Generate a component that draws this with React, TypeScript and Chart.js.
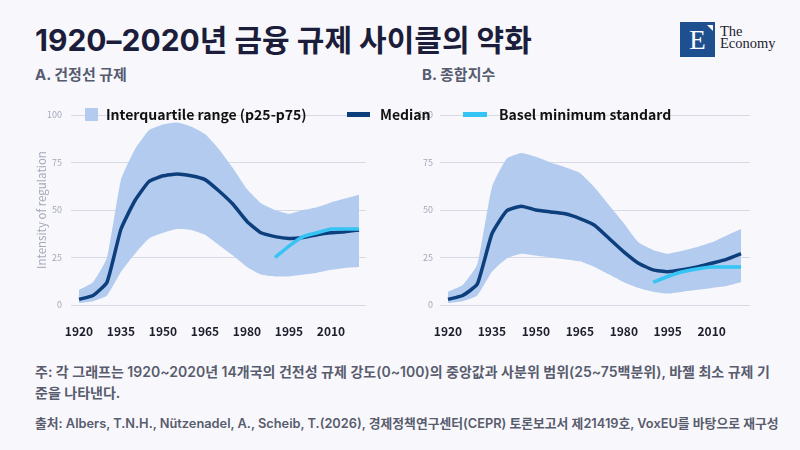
import React, { useEffect, useRef } from "react";
import { Chart, registerables } from "chart.js";

Chart.register(...registerables);

// ---------- data ----------
const years = [1920, 1925, 1930, 1935, 1940, 1945, 1950, 1955, 1960, 1965, 1970, 1975, 1980, 1985, 1990, 1995, 2000, 2005, 2010, 2015, 2020];
const xTickYears = [1920, 1935, 1950, 1965, 1980, 1995, 2010];
const yTickValues = [0, 25, 50, 75, 100];

const aMedian = [3, 5, 12, 40, 55, 65, 68, 69, 68, 66, 60, 53, 44, 38, 36, 35, 35.5, 37, 38, 38.5, 39.5];
const aP75 = [8, 12, 25, 66, 82, 92, 95, 96, 94, 90, 82, 72, 61, 53.5, 50, 48, 50, 51.5, 54, 56, 58];
const aP25 = [1, 2, 5, 17.5, 27, 35, 38, 40, 39.5, 37, 31.5, 26, 20, 16, 15, 15, 16, 17, 18.5, 19.5, 20];

const bMedian = [3, 5, 11, 37.5, 49.5, 52, 50, 49, 48, 45.5, 42, 35, 28, 22, 18.5, 17.5, 18.5, 20, 22, 24, 27];
const bP75 = [7, 10.5, 21.5, 62, 77, 80, 78, 75, 72.5, 69.5, 62, 52.5, 43, 33, 29, 27, 28.5, 30.5, 33, 36.5, 40];
const bP25 = [1, 2, 5, 17.5, 24.5, 27, 26, 25, 24, 23, 20, 16, 12, 9, 7, 6, 7, 8, 9, 10, 12];

const baselYears = [1990, 1995, 2000, 2005, 2010, 2015, 2020];
const aBasel = [25, 31, 36, 38, 40, 40, 40];
const bBasel = [12, 15, 17.5, 19, 20, 20, 20];

// ---------- styles ----------
const BAND = "#b2cbee";
const NAVY = "#0e3f7d";
const CYAN = "#35c4f4";
const BG = "#f8f8fc";
const FONT = "'Noto Sans CJK KR', 'Noto Sans', sans-serif";
const UI_FONT = "Inter, 'Noto Sans CJK KR', sans-serif";

type PanelProps = {
  median: number[];
  p75: number[];
  p25: number[];
  basel: number[];
  left: number;
  width: number;
  padLeft: number;
  padRight: number;
  yWidth: number;
  yTickPad: number;
  xMin: number;
  xMax: number;
  yTitle?: string;
};

function Panel(props: PanelProps) {
  const ref = useRef<HTMLCanvasElement | null>(null);
  useEffect(() => {
    if (!ref.current) return;
    const pts = (vals: number[], xs: number[]) => vals.map((v, i) => ({ x: xs[i], y: v }));
    const chart = new Chart(ref.current, {
      type: "line",
      data: {
        datasets: [
          {
            data: pts(props.p25, years),
            borderWidth: 0,
            pointRadius: 0,
            backgroundColor: BAND,
            fill: false,
            tension: 0.15,
            order: 3,
          },
          {
            data: pts(props.p75, years),
            borderWidth: 0,
            pointRadius: 0,
            backgroundColor: BAND,
            fill: "-1",
            tension: 0.15,
            order: 2,
          },
          {
            data: pts(props.median, years),
            borderColor: NAVY,
            borderWidth: 3.5,
            pointRadius: 0,
            fill: false,
            tension: 0.15,
            order: 1,
          },
          {
            data: pts(props.basel, baselYears),
            borderColor: CYAN,
            borderWidth: 3.5,
            pointRadius: 0,
            fill: false,
            tension: 0.15,
            order: 0,
          },
        ],
      },
      options: {
        animation: false,
        responsive: false,
        devicePixelRatio: 1,
        layout: { padding: { left: props.padLeft, right: props.padRight, top: 10, bottom: 0 } },
        plugins: { legend: { display: false }, tooltip: { enabled: false } },
        scales: {
          x: {
            type: "linear",
            min: props.xMin,
            max: props.xMax,
            grid: { display: false },
            border: { display: false },
            afterBuildTicks: (scale: any) => {
              scale.ticks = xTickYears.map((v) => ({ value: v }));
            },
            afterFit: (scale: any) => {
              scale.height = 35;
              scale.paddingLeft = 0;
              scale.paddingRight = 0;
            },
            ticks: {
              autoSkip: false,
              maxRotation: 0,
              padding: 11,
              color: "#1c1e2c",
              font: { family: FONT, size: 12, weight: "bold" },
              callback: (v: any) => String(v),
            },
          },
          y: {
            min: 0,
            max: 100,
            afterBuildTicks: (scale: any) => {
              scale.ticks = yTickValues.map((v) => ({ value: v }));
            },
            afterFit: (scale: any) => {
              scale.width = props.yWidth;
              scale.paddingTop = 0;
              scale.paddingBottom = 0;
            },
            grid: { color: "#d7dae4", lineWidth: 1, drawTicks: false },
            border: { display: false },
            ticks: {
              padding: props.yTickPad,
              color: "#a3a8b8",
              font: { family: FONT, size: 9 },
            },
            title: props.yTitle
              ? {
                  display: true,
                  text: props.yTitle,
                  color: "#a3a8ba",
                  font: { family: FONT, size: 11.5 },
                  padding: 4,
                }
              : { display: false },
          },
        },
      } as any,
    });
    return () => chart.destroy();
  }, []);
  return (
    <canvas
      ref={ref}
      width={props.width}
      height={235}
      style={{ position: "absolute", left: props.left, top: 105, width: props.width, height: 235 }}
    />
  );
}

const abs = (s: React.CSSProperties): React.CSSProperties => ({ position: "absolute", ...s });

export default function App() {
  const legendText: React.CSSProperties = {
    position: "absolute",
    top: 104,
    fontFamily: FONT,
    fontWeight: 700,
    fontSize: 14,
    lineHeight: "20px",
    color: "#111",
    whiteSpace: "nowrap",
  };
  return (
    <div
      style={{
        position: "fixed",
        left: 0,
        top: 0,
        width: 800,
        height: 450,
        background: BG,
        overflow: "hidden",
        fontFamily: UI_FONT,
      }}
    >
      <div
        style={abs({
          left: 35,
          top: 20,
          fontSize: 30,
          fontWeight: 700,
          lineHeight: "40px",
          color: "#1b1d3a",
          whiteSpace: "nowrap",
        })}
      >
        1920–2020년 금융 규제 사이클의 약화
      </div>

      {/* logo */}
      <div style={abs({ left: 680, top: 22, width: 35, height: 35, background: "#1e4f8f" })}>
        <div
          style={abs({
            left: 0,
            top: 3,
            width: 35,
            textAlign: "center",
            color: "#fff",
            fontFamily: "'Liberation Serif', serif",
            fontSize: 27,
            lineHeight: "30px",
          })}
        >
          E
        </div>
        <div
          style={abs({
            left: 27,
            top: 3,
            width: 0,
            height: 0,
            borderTop: "6px solid #fff",
            borderLeft: "6px solid transparent",
          })}
        />
      </div>
      <div
        style={abs({
          left: 720,
          top: 25,
          fontFamily: "'Liberation Serif', serif",
          fontSize: 14.5,
          lineHeight: "12px",
          color: "#1b1d2e",
        })}
      >
        The
        <br />
        Economy
      </div>

      <div style={abs({ left: 35, top: 65, fontSize: 15, fontWeight: 700, color: "#565b70", lineHeight: "20px" })}>
        A. 건정선 규제
      </div>
      <div style={abs({ left: 422, top: 65, fontSize: 15, fontWeight: 700, color: "#565b70", lineHeight: "20px" })}>
        B. 종합지수
      </div>

      <Panel
        median={aMedian}
        p75={aP75}
        p25={aP25}
        basel={aBasel}
        left={0}
        width={380}
        padLeft={31}
        padRight={14}
        yWidth={40}
        yTickPad={9}
        xMin={1917.14}
        xMax={2022.5}
        yTitle="Intensity of regulation"
      />
      <Panel
        median={bMedian}
        p75={bP75}
        p25={bP25}
        basel={bBasel}
        left={400}
        width={370}
        padLeft={0}
        padRight={20}
        yWidth={40}
        yTickPad={7}
        xMin={1917.27}
        xMax={2023.07}
      />

      {/* legend */}
      <div style={abs({ left: 85, top: 108, width: 13, height: 13, background: BAND })} />
      <div style={{ ...legendText, left: 106 }}>Interquartile range (p25-p75)</div>
      <div style={abs({ left: 347, top: 112, width: 23, height: 5, background: NAVY })} />
      <div style={{ ...legendText, left: 380 }}>Median</div>
      <div style={abs({ left: 463, top: 112, width: 24, height: 5, background: CYAN })} />
      <div style={{ ...legendText, left: 499 }}>Basel minimum standard</div>

      {/* notes */}
      <div
        style={abs({
          left: 35,
          top: 361,
          fontSize: 14,
          fontWeight: 600,
          lineHeight: "21px",
          color: "#585c6e",
          whiteSpace: "nowrap",
        })}
      >
        <div>주: 각 그래프는 1920~2020년 14개국의 건전성 규제 강도(0~100)의 중앙값과 사분위 범위(25~75백분위), 바젤 최소 규제 기</div>
        <div>준을 나타낸다.</div>
      </div>
      <div
        style={abs({
          left: 35,
          top: 414,
          fontSize: 12.8,
          fontWeight: 600,
          lineHeight: "20px",
          color: "#585c6e",
          whiteSpace: "nowrap",
        })}
      >
        출처: Albers, T.N.H., Nützenadel, A., Scheib, T.(2026), 경제정책연구센터(CEPR) 토론보고서 제21419호, VoxEU를 바탕으로 재구성
      </div>
    </div>
  );
}
